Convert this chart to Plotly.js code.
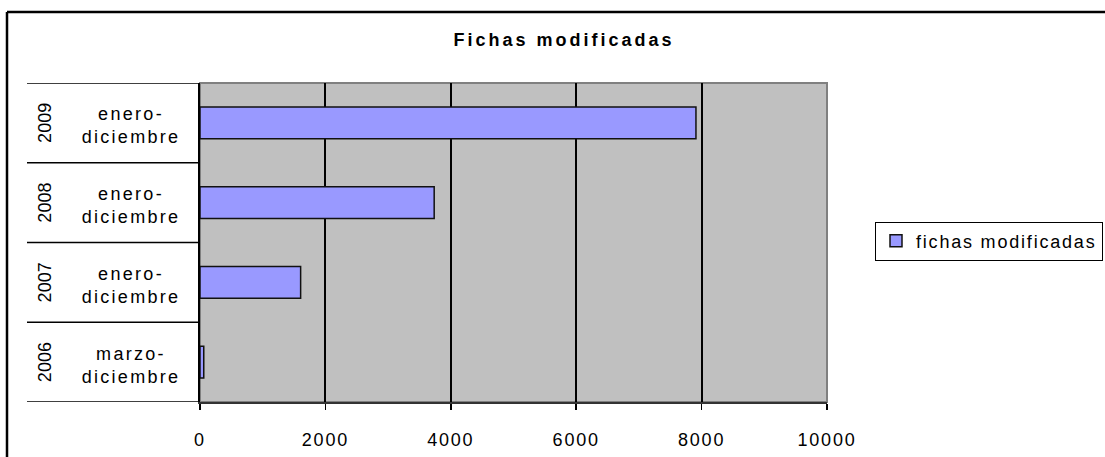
<!DOCTYPE html>
<html>
<head>
<meta charset="utf-8">
<script src="https://cdn.plot.ly/plotly-3.0.1.min.js"></script>
<style>
  html, body { margin: 0; padding: 0; background: #fff; }
  #chart { width: 1105px; height: 457px; }
  .xtick text { letter-spacing: 1.8px; }
  .legendtext { letter-spacing: 1.8px; }
  .gtitle { letter-spacing: 3px; }
  .annotation[data-index="1"] .annotation-text,
  .annotation[data-index="3"] .annotation-text,
  .annotation[data-index="5"] .annotation-text,
  .annotation[data-index="7"] .annotation-text { letter-spacing: 2.3px; }
</style>
</head>
<body>
<div id="chart"></div>
<script>
// ---- data ----
const years = ['2006', '2007', '2008', '2009'];
const periods = ['marzo-<br>diciembre', 'enero-<br>diciembre', 'enero-<br>diciembre', 'enero-<br>diciembre'];
const fichasModificadas = [60, 1605, 3735, 7910];
const seriesName = 'fichas modificadas';
const chartTitle = 'Fichas modificadas';
const xTicks = [0, 2000, 4000, 6000, 8000, 10000];

// ---- layout helpers (pixel -> paper) ----
const W = 1105, H = 457;
const L = 200, R = 827, T = 83, B = 402;
const px = v => (v - L) / (R - L);
const py = v => (B - v) / (B - T);
const FONT = 'Liberation Sans, Arial, sans-serif';

const trace = {
  type: 'bar',
  orientation: 'h',
  y: years,
  x: fichasModificadas,
  name: seriesName,
  showlegend: true,
  marker: { color: '#9999FF', line: { color: '#111', width: 1.5 } },
  hoverinfo: 'x+y'
};

const annotations = [];
years.forEach((yr, i) => {
  annotations.push({
    xref: 'paper', yref: 'y', x: px(45), y: i, text: yr, showarrow: false,
    textangle: -90, xanchor: 'center', yanchor: 'middle',
    font: { family: FONT, size: 18, color: '#000' }
  });
  annotations.push({
    xref: 'paper', yref: 'y', x: px(131), y: i, yshift: -3, text: periods[i], showarrow: false,
    xanchor: 'center', yanchor: 'middle', align: 'center',
    font: { family: FONT, size: 18, color: '#000' }
  });
});

const shapes = [];
// outer chart border (left & top visible)
shapes.push({ type: 'line', xref: 'paper', yref: 'paper', x0: px(7), x1: px(7), y0: py(12), y1: py(H + 5), line: { color: '#000', width: 2.5 } });
shapes.push({ type: 'line', xref: 'paper', yref: 'paper', x0: px(7), x1: px(W + 5), y0: py(12), y1: py(12), line: { color: '#000', width: 2.5 } });
// plot area border (grey)
shapes.push({ type: 'rect', xref: 'paper', yref: 'paper', x0: 0, x1: 1, y0: 0, y1: 1, line: { color: '#808080', width: 2 }, layer: 'below' });
// category separators
[-0.5, 0.5, 1.5, 2.5, 3.5].forEach(b => {
  shapes.push({ type: 'line', xref: 'paper', yref: 'y', x0: px(27), x1: 0, y0: b, y1: b, line: { color: '#000', width: 1.5 } });
});

const layout = {
  width: W, height: H,
  margin: { l: L, r: W - R, t: T, b: H - B, autoexpand: false },
  paper_bgcolor: '#FFFFFF',
  plot_bgcolor: '#C0C0C0',
  font: { family: FONT, size: 18, color: '#000' },
  title: {
    text: '<b>' + chartTitle + '</b>',
    font: { family: FONT, size: 18, color: '#000' },
    x: 564 / W, xref: 'container', xanchor: 'center',
    y: 1 - 40 / H, yref: 'container', yanchor: 'middle'
  },
  bargap: 0.6,
  xaxis: {
    range: [0, 10000],
    tickvals: xTicks,
    ticktext: xTicks.map(String),
    ticks: 'outside', ticklen: 6, tickwidth: 1.5, tickcolor: '#000',
    ticklabelstandoff: 14,
    showgrid: true, gridcolor: '#000', gridwidth: 2,
    showline: true, linecolor: '#333', linewidth: 2,
    zeroline: false,
    tickfont: { family: FONT, size: 18, color: '#000' },
    fixedrange: true
  },
  yaxis: {
    type: 'category',
    categoryorder: 'array', categoryarray: years,
    range: [-0.5, 3.5],
    showticklabels: false,
    ticks: '',
    showgrid: false,
    showline: true, linecolor: '#000', linewidth: 2,
    zeroline: false,
    fixedrange: true
  },
  showlegend: true,
  legend: {
    x: px(875), xref: 'paper', xanchor: 'left',
    y: py(241), yref: 'paper', yanchor: 'middle',
    bgcolor: '#FFFFFF', bordercolor: '#000', borderwidth: 1,
    font: { family: FONT, size: 18, color: '#000' }
  },
  annotations: annotations,
  shapes: shapes
};

Plotly.newPlot('chart', [trace], layout, { displayModeBar: false, staticPlot: true });
</script>
</body>
</html>
